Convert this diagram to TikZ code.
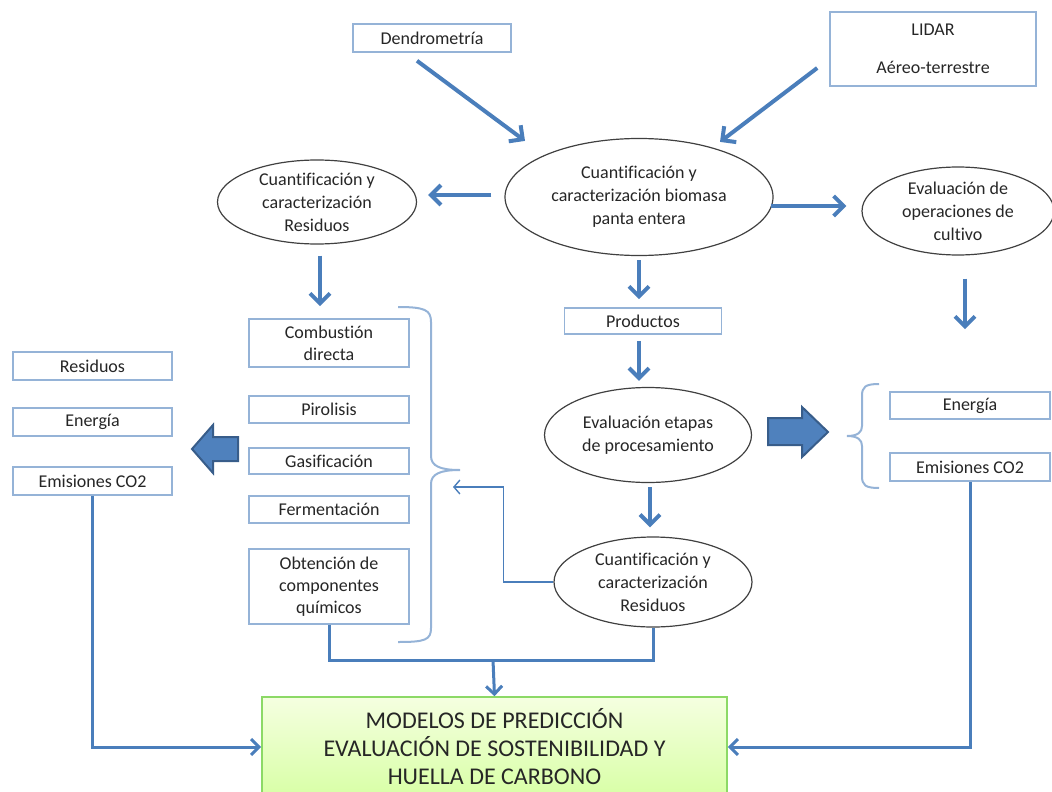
\documentclass[tikz,border=0pt]{standalone}
\usepackage{fontspec}
\setmainfont{Carlito}[Ligatures=CommonOff]
\usepackage{tikz}
\usetikzlibrary{calc,positioning,arrows.meta,shapes.geometric}
\definecolor{arrowblue}{HTML}{4A7EBB}
\definecolor{boxblue}{HTML}{95B3D7}
\definecolor{darkblue}{HTML}{385D8A}
\definecolor{fillblue}{HTML}{4F81BD}
\definecolor{txtgray}{HTML}{262626}

\begin{document}
\begin{tikzpicture}[
    x=0.5pt, y=-0.5pt,
    box/.style={draw=boxblue, line width=0.8pt, fill=white, text=txtgray, align=center, inner sep=1pt, minimum width=80pt, minimum height=13.5pt, font=\fontsize{9}{11}\selectfont},
    oval/.style={ellipse, draw=black!75, line width=0.6pt, text=txtgray, align=center, inner xsep=0pt, inner ysep=-3pt, font=\fontsize{9}{11.5}\selectfont},
    bigarrow/.style={-{Straight Barb[length=5pt,width=10pt]}, line width=2pt, draw=arrowblue},
    conn/.style={line width=1.5pt, draw=arrowblue},
    brace/.style={draw=boxblue, line width=1pt},
    block/.style={fill=fillblue, draw=darkblue, line width=1pt, line join=miter}
  ]
    \clip (0,0) rectangle (1052,791);
    \useasboundingbox (0,0) rectangle (1052,791);

    \node[box, minimum width=79pt, minimum height=14pt] (dendro) at (432,38) {Dendrometría};
    \node[box, minimum width=103pt, minimum height=37pt] (lidar) at (933,49) {LIDAR\\[8pt]Aéreo-terrestre};

    \node[oval, minimum width=134pt, minimum height=58.5pt] (main) at (639,197) {Cuantificación y\\caracterización biomasa\\panta entera};
    \node[oval, minimum width=99.5pt, minimum height=42pt] (resid1) at (317,202) {Cuantificación y\\caracterización\\Residuos};
    \node[oval, minimum width=96pt, minimum height=44pt] (oper) at (958,211) {Evaluación de\\operaciones de\\cultivo};

    \node[box, minimum width=78.5pt, minimum height=13pt] (prod) at (643,321) {Productos};
    \node[oval, minimum width=103.5pt, minimum height=47.5pt] (etapas) at (648,435) {Evaluación etapas\\de procesamiento};
    \node[oval, minimum width=99pt, minimum height=45pt] (resid2) at (653,582) {Cuantificación y\\caracterización\\Residuos};

    \node[box, minimum height=24pt] (comb) at (329,343) {Combustión\\directa};
    \node[box] (piro) at (329,409.5) {Pirolisis};
    \node[box, minimum height=13pt] (gasi) at (329,461) {Gasificación};
    \node[box] (ferm) at (329,509.5) {Fermentación};
    \node[box, minimum height=37.5pt] (obt) at (329,586.5) {Obtención de\\componentes\\químicos};

    \node[box, minimum width=79.5pt, minimum height=14pt] (resL) at (92.5,366) {Residuos};
    \node[box, minimum width=79.5pt, minimum height=14pt] (enL) at (92.5,422) {Energía};
    \node[box, minimum width=79.5pt, minimum height=14pt] (emiL) at (92.5,481) {Emisiones CO2};

    \node[box, minimum height=13.5pt] (enR) at (970,405.5) {Energía};
    \node[box, minimum height=14pt] (emiR) at (970,467) {Emisiones CO2};

    \node[draw=green!50!olive!60, line width=0.8pt, top color=green!10!lime!12, bottom color=green!25!lime!35, minimum width=232.5pt, minimum height=50pt, align=center, text=txtgray, font=\fontsize{12}{14}\selectfont] (model) at (494.5,747) {MODELOS DE PREDICCIÓN\\EVALUACIÓN DE SOSTENIBILIDAD Y\\HUELLA DE CARBONO};

    \coordinate (bracein) at (453,487);
    \coordinate (merge) at (493,660);

    \draw[bigarrow] ($(dendro.south)+(-15,8)$) -- ($(main.north)+(-114,3)$);
    \draw[bigarrow] ($(lidar.west)+(-12,19)$) -- ($(main.north)+(81,4)$);
    \draw[bigarrow] ($(main.west)+(-13,-2)$) -- ($(resid1.east)+(11,-7)$);
    \draw[bigarrow] ($(main.east)+(-3,9)$) -- ($(oper.west)+(-15,-5)$);
    \draw[bigarrow] ($(resid1.south)+(3,11)$) -- ($(comb.north)+(-9,-12)$);
    \draw[bigarrow] ($(main.south)+(0,4)$) -- ($(prod.north)+(-4,-8)$);
    \draw[bigarrow] ($(oper.south)+(7,23)$) -- ($(enR.north)+(-5,-62)$);
    \draw[bigarrow] ($(prod.south)+(-4,6)$) -- ($(etapas.north)+(-9,-6)$);
    \draw[bigarrow] ($(etapas.south)+(2,4)$) -- ($(resid2.north)+(-3,-9)$);

    \draw[draw=arrowblue, line width=0.7pt, -{Straight Barb[length=3pt,width=7pt]}] (resid2.west) -- ++(-50,0) |- (bracein);

    \draw[conn, -{Straight Barb[length=4pt,width=8pt]}] (emiL.south) |- (model.west);
    \draw[conn, -{Straight Barb[length=4pt,width=8pt]}] (emiR.south) |- (model.east);
    \draw[conn] (obt.south) |- (merge) -| (resid2.south);
    \draw[conn, -{Straight Barb[length=4pt,width=8pt]}] (merge) -- (model.north);

    \draw[brace] (398,307) .. controls (425,307) and (431,310) .. (431,322) -- (431,456) .. controls (431,466) and (440,470) .. (460,470) .. controls (440,470) and (431,474) .. (431,484) -- (431,628) .. controls (431,640) and (425,642) .. (398,642);
    \draw[brace] (879,384) .. controls (865,384) and (862,387) .. (862,396) -- (862,426) .. controls (862,432) and (858,436) .. (847,436) .. controls (858,436) and (862,440) .. (862,446) -- (862,476) .. controls (862,485) and (865,488) .. (879,488);

    \draw[block] (192,449) -- (213,425) -- (213,437) -- (238,437) -- (238,461) -- (213,461) -- (213,473) -- cycle;
    \draw[block] (828,432) -- (802,407) -- (802,418) -- (768,418) -- (768,445) -- (802,445) -- (802,457) -- cycle;
  \end{tikzpicture}
\end{document}
